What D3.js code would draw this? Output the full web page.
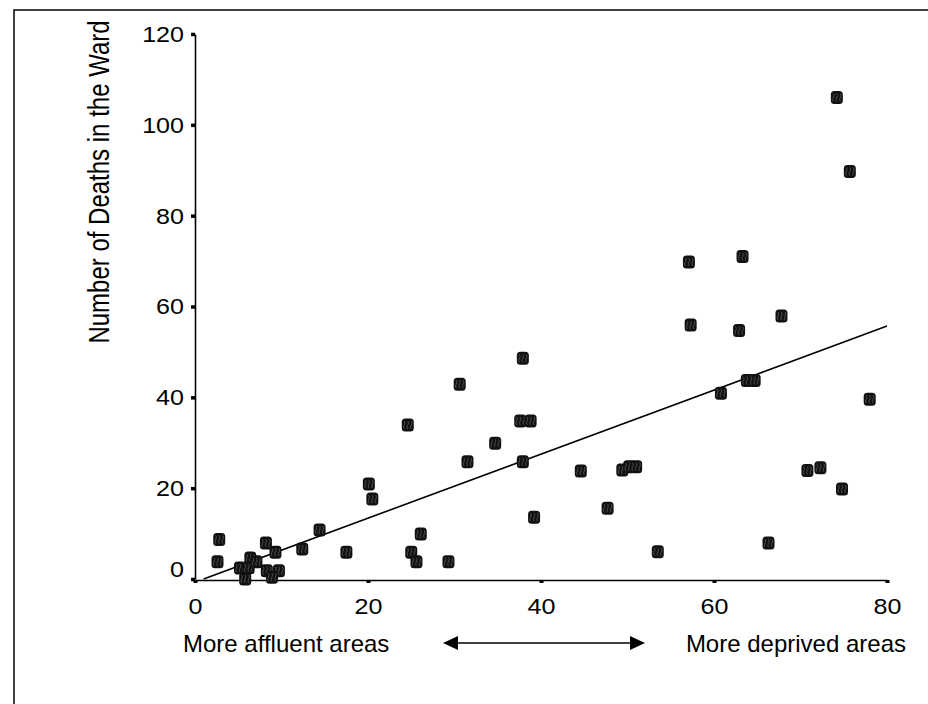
<!DOCTYPE html>
<html>
<head>
<meta charset="utf-8">
<script src="https://cdn.jsdelivr.net/npm/d3@7"></script>
<style>
  html, body { margin: 0; padding: 0; background: #fff; }
  svg { display: block; }
  text { font-family: "Liberation Sans", Arial, sans-serif; fill: #000; }
</style>
</head>
<body>
<svg id="chart" width="928" height="704"></svg>
<script>
// ---- data ----
const deprivation = [2.8, 2.6, 5.2, 5.8, 6.4, 6.2, 7.1, 8.2, 9.3, 8.3, 9.7, 8.9, 12.4, 14.4, 17.5, 20.1, 20.5, 24.6, 25.0, 25.6,
  26.1, 29.3, 30.6, 31.5, 34.7, 37.6, 38.8, 37.9, 37.9, 39.2, 44.6, 47.7, 49.4, 50.2, 51.0, 53.5, 57.1, 57.3, 60.8, 62.9,
  63.3, 63.8, 64.7, 66.3, 67.8, 70.8, 72.3, 74.2, 74.8, 75.7, 78.0];
const deaths = [8.7, 3.8, 2.4, 0, 4.6, 2.5, 3.8, 7.9, 5.9, 1.8, 1.8, 0.4, 6.6, 10.8, 5.9, 20.9, 17.6, 33.9, 5.9, 3.8,
  9.9, 3.8, 42.9, 25.8, 29.9, 34.8, 34.8, 48.6, 25.8, 13.6, 23.8, 15.6, 24.0, 24.7, 24.7, 6.0, 69.8, 55.9, 40.9, 54.7,
  71.0, 43.7, 43.7, 7.9, 57.9, 23.9, 24.5, 106.0, 19.8, 89.7, 39.6];
const fitX = [1.0, 80];
const fitY = [0, 55.7];
const xTicks = [0, 20, 40, 60, 80];
const yTicks = [0, 20, 40, 60, 80, 100, 120];
const yTitle = "Number of Deaths in the Ward";
const leftLabel = "More affluent areas";
const rightLabel = "More deprived areas";

// ---- drawing ----
const svg = d3.select("#chart");
const x = d3.scaleLinear().domain([0, 80]).range([195, 887]);
const y = d3.scaleLinear().domain([0, 120]).range([579, 34]);

// frame
svg.append("rect").attr("x", 14).attr("y", 10).attr("width", 930).attr("height", 710)
  .attr("fill", "none").attr("stroke", "#000").attr("stroke-width", 1.5);

const FS = 22, SX = 1.14;

// y axis
const gy = svg.append("g").attr("transform", `translate(${x(0)},0)`)
  .call(d3.axisLeft(y).tickValues(yTicks).tickSize(4).tickSizeOuter(0).tickFormat(d3.format("d")));
gy.select(".domain").attr("stroke", "#000").attr("stroke-width", 1.6);
gy.selectAll(".tick line").attr("stroke", "#000").attr("stroke-width", 3.5);
gy.selectAll(".tick text")
  .attr("x", 0).attr("dy", null)
  .attr("dominant-baseline", "central")
  .attr("font-size", FS)
  .attr("transform", d => `translate(-11,${d === 0 ? -10 : 0}) scale(${SX},1)`);

// x axis
const gx = svg.append("g").attr("transform", `translate(0,${y(0) + 1})`)
  .call(d3.axisBottom(x).tickValues(xTicks).tickSize(3).tickSizeOuter(0).tickFormat(d3.format("d")));
gx.select(".domain").attr("stroke", "#000").attr("stroke-width", 1.6);
gx.selectAll(".tick line").attr("stroke", "#000").attr("stroke-width", 4);
gx.selectAll(".tick text")
  .attr("y", 0).attr("dy", null)
  .attr("font-size", FS)
  .attr("transform", `translate(0,34) scale(${SX},1)`);

// y title
svg.append("text")
  .attr("transform", `translate(109,182) scale(1.22,1) rotate(-90)`)
  .attr("text-anchor", "middle")
  .attr("font-size", 24)
  .text(yTitle);

// regression line
svg.append("line")
  .attr("x1", x(fitX[0])).attr("y1", y(fitY[0]))
  .attr("x2", x(fitX[1])).attr("y2", y(fitY[1]))
  .attr("stroke", "#000").attr("stroke-width", 1.6);

// markers
const pts = deprivation.map((d, i) => ({ x: d, y: deaths[i] }));
const mk = svg.append("g").selectAll("g").data(pts).join("g")
  .attr("transform", d => `translate(${x(d.x)},${y(d.y)})`);
mk.append("rect").attr("x", -6).attr("y", -6.5).attr("width", 12).attr("height", 13)
  .attr("rx", 3.5).attr("fill", "#111");
mk.append("path")
  .attr("d", "M-3.5,-4 q1.5,2 0,4 q-1.5,2 0,4 M0,-4 q1.5,2 0,4 q-1.5,2 0,4 M3.5,-4 q1.5,2 0,4 q-1.5,2 0,4")
  .attr("fill", "none").attr("stroke", "#5a5a5a").attr("stroke-width", 0.8);

// bottom labels
svg.append("text").attr("x", 183).attr("y", 652).attr("font-size", 24).text(leftLabel);
svg.append("text").attr("x", 906).attr("y", 652).attr("text-anchor", "end").attr("font-size", 24).text(rightLabel);

// double arrow
const ay = 643, ax1 = 443, ax2 = 645;
svg.append("line").attr("x1", ax1 + 12).attr("y1", ay).attr("x2", ax2 - 12).attr("y2", ay)
  .attr("stroke", "#000").attr("stroke-width", 1.6);
svg.append("path").attr("d", `M${ax1},${ay} l15,-7 l0,14 z`).attr("fill", "#000");
svg.append("path").attr("d", `M${ax2},${ay} l-15,-7 l0,14 z`).attr("fill", "#000");
</script>
</body>
</html>
